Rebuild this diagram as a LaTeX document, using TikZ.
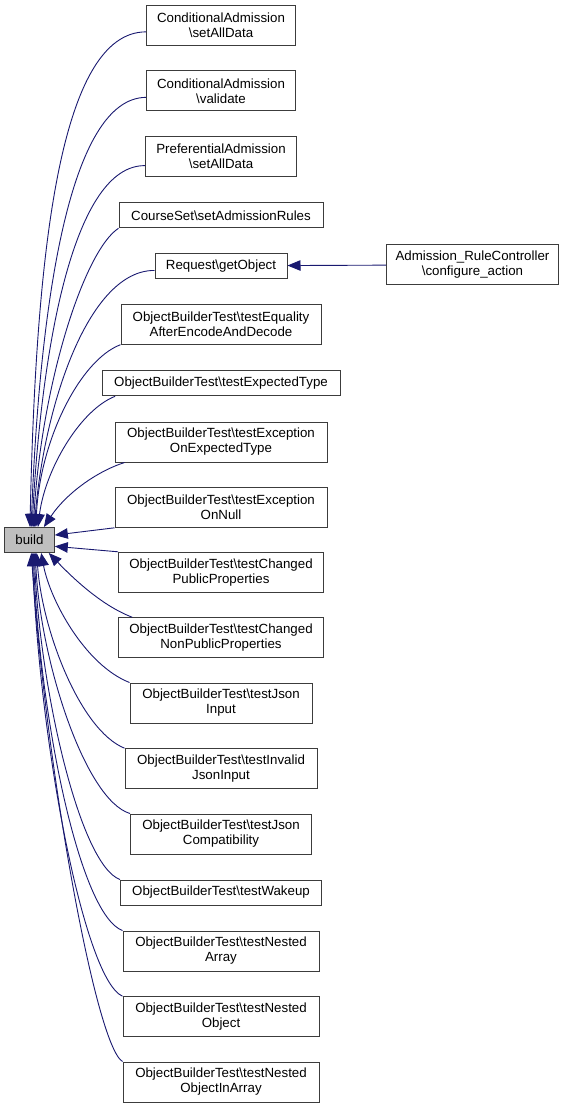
\documentclass[tikz,border=0pt]{standalone}
\usepackage{fontspec}
\setmainfont{Liberation Sans}
\usetikzlibrary{arrows.meta}
\definecolor{edgeblue}{RGB}{25,25,112}
\definecolor{boxline}{RGB}{60,60,60}
\definecolor{buildgray}{RGB}{191,191,191}

\begin{document}
\begin{tikzpicture}[x=1pt, y=-1pt,
    fnbox/.style={draw=boxline, line width=1pt, fill=white, align=center, inner sep=0pt, font=\fontsize{13.3}{15}\selectfont},
    oneline/.style={fnbox, minimum height=25pt},
    twoline/.style={fnbox, minimum height=40pt},
    call/.style={edgeblue, line width=0.9pt, -{Triangle[length=13pt, width=10.5pt]}}]
			\useasboundingbox (0,0) rectangle (565,1108);

			\node[oneline, fill=buildgray, minimum width=49.6pt] (build) at (29.5,540) {build};

			\node[twoline, minimum width=149pt] (cas) at (221,25.3) {ConditionalAdmission\\\textbackslash setAllData};
			\node[twoline, minimum width=149pt] (cav) at (221,90.8) {ConditionalAdmission\\\textbackslash validate};
			\node[twoline, minimum width=151pt] (pas) at (221,156.3) {PreferentialAdmission\\\textbackslash setAllData};
			\node[oneline, minimum width=204pt] (css) at (221,215.3) {CourseSet\textbackslash setAdmissionRules};
			\node[oneline, minimum width=132pt] (req) at (221,265.8) {Request\textbackslash getObject};
			\node[twoline, minimum width=172pt] (arc) at (472.5,264.8) {Admission\_RuleController\\\textbackslash configure\_action};
			\node[twoline, minimum width=200pt] (teq) at (221,324.2) {ObjectBuilderTest\textbackslash testEquality\\AfterEncodeAndDecode};
			\node[oneline, minimum width=238pt] (tet) at (221,383.3) {ObjectBuilderTest\textbackslash testExpectedType};
			\node[twoline, minimum width=212pt] (teo) at (221,442) {ObjectBuilderTest\textbackslash testException\\OnExpectedType};
			\node[twoline, minimum width=212pt] (ten) at (221,507.3) {ObjectBuilderTest\textbackslash testException\\OnNull};
			\node[twoline, minimum width=205pt] (tcp) at (221,572.3) {ObjectBuilderTest\textbackslash testChanged\\PublicProperties};
			\node[twoline, minimum width=205pt] (tcn) at (221,637.7) {ObjectBuilderTest\textbackslash testChanged\\NonPublicProperties};
			\node[twoline, minimum width=182pt] (tji) at (221,703) {ObjectBuilderTest\textbackslash testJson\\Input};
			\node[twoline, minimum width=192pt] (tij) at (221,768.7) {ObjectBuilderTest\textbackslash testInvalid\\JsonInput};
			\node[twoline, minimum width=181pt] (tjc) at (221,834) {ObjectBuilderTest\textbackslash testJson\\Compatibility};
			\node[oneline, minimum width=201pt] (twk) at (221,892.5) {ObjectBuilderTest\textbackslash testWakeup};
			\node[twoline, minimum width=196pt] (tna) at (221,951) {ObjectBuilderTest\textbackslash testNested\\Array};
			\node[twoline, minimum width=196pt] (tno) at (221,1016.7) {ObjectBuilderTest\textbackslash testNested\\Object};
			\node[twoline, minimum width=196pt] (tnoa) at (221,1082) {ObjectBuilderTest\textbackslash testNested\\ObjectInArray};

			\draw[call] (cas.185) .. controls (60,32) and (36,250) .. (build.88);
			\draw[call] (cav.185) .. controls (70,98) and (40,300) .. (build.83);
			\draw[call] (pas.187) .. controls (75,165) and (42,340) .. (build.79);
			\draw[call] (css.south west) .. controls (85,250) and (42,380) .. (build.74);
			\draw[call] (req.184) .. controls (90,270) and (45,400) .. (build.70);
			\draw[call] (teq.south west) .. controls (80,360) and (40,440) .. (build.64);
			\draw[call] (tet.187) .. controls (80,410) and (45,470) .. (build.57);
			\draw[call] (teo.192) .. controls (95,472) and (65,495) .. (build.42);
			\draw[call] (ten.south west) -- (build.11);
			\draw[call] (tcp.north west) -- (build.-14);
			\draw[call] (tcn.167) .. controls (100,605) and (70,575) .. (build.-34);
			\draw[call] (tji.north west) .. controls (85,665) and (50,600) .. (build.-48);
			\draw[call] (tij.north west) .. controls (80,730) and (42,630) .. (build.-61);
			\draw[call] (tjc.north west) .. controls (85,800) and (40,660) .. (build.-66);
			\draw[call] (twk.north west) .. controls (80,865) and (40,690) .. (build.-70);
			\draw[call] (tna.north west) .. controls (80,915) and (40,720) .. (build.-74);
			\draw[call] (tno.north west) .. controls (85,980) and (40,750) .. (build.-78);
			\draw[call] (tnoa.north west) .. controls (95,1045) and (45,760) .. (build.-82);

			\draw[call] (arc) -- (req);
		\end{tikzpicture}
\end{document}
